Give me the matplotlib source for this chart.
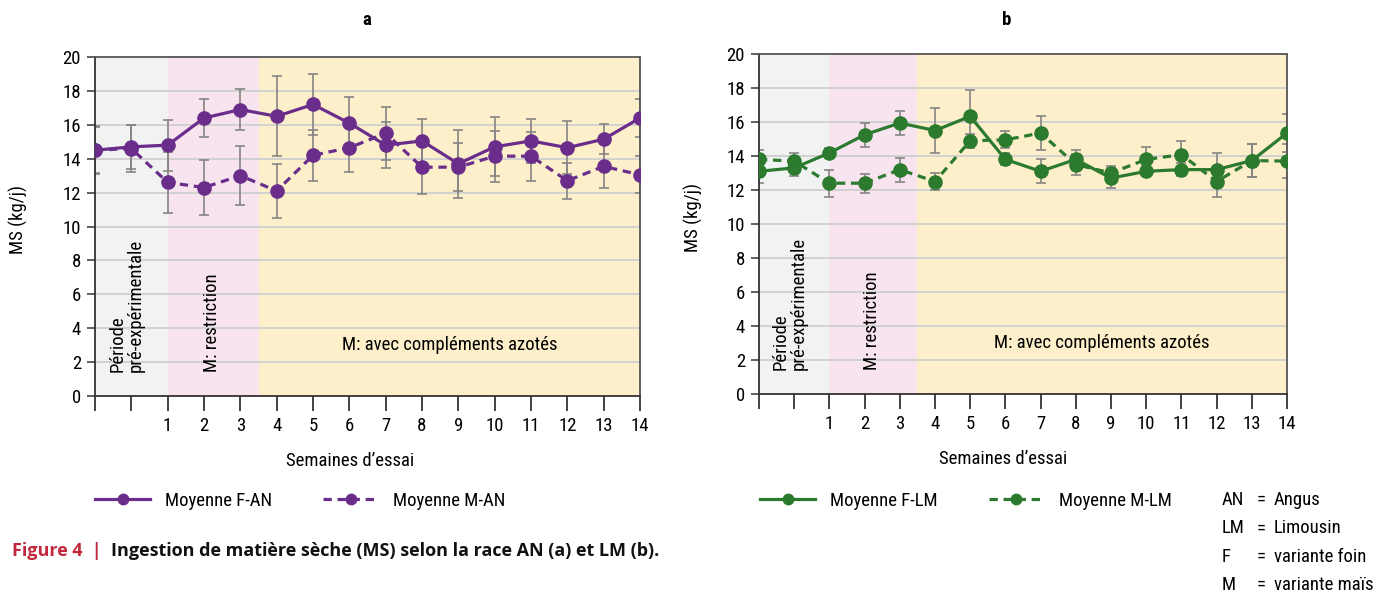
import matplotlib
matplotlib.use("Agg")
import matplotlib.pyplot as plt
from matplotlib.lines import Line2D
import numpy as np

plt.rcParams['font.family'] = ['Roboto Condensed', 'Fira Sans Condensed', 'DejaVu Sans']

# ---- data ----
week_labels = ['', '', '1', '2', '3', '4', '5', '6', '7', '8', '9', '10', '11', '12', '13', '14']

f_an = [14.5, 14.7, 14.8, 16.4, 16.9, 16.5, 17.2, 16.1, 14.8, 15.05, 13.7, 14.7, 15.05, 14.65, 15.15, 16.4]
f_an_err = [1.4, 1.3, 1.5, 1.1, 1.2, 2.35, 1.8, 1.55, 1.35, 1.3, 2.0, 1.75, 1.3, 1.55, 0.9, 1.1]
m_an = [14.5, 14.6, 12.6, 12.3, 13.0, 12.1, 14.2, 14.65, 15.5, 13.5, 13.5, 14.15, 14.15, 12.7, 13.55, 13.05]
m_an_err = [1.35, 1.4, 1.8, 1.65, 1.75, 1.6, 1.5, 1.45, 1.55, 1.6, 1.4, 1.5, 1.45, 1.05, 1.3, 1.1]

f_lm = [13.1, 13.3, 14.18, 15.25, 15.94, 15.5, 16.33, 13.8, 13.1, 13.8, 12.7, 13.1, 13.2, 13.2, 13.73, 15.35]
f_lm_err = [0.7, 0.5, 0.3, 0.7, 0.7, 1.35, 1.55, 0.35, 0.7, 0.55, 0.6, 0.3, 0.4, 1.0, 0.95, 1.1]
m_lm = [13.8, 13.7, 12.4, 12.4, 13.2, 12.5, 14.9, 14.95, 15.35, 13.5, 13.0, 13.8, 14.08, 12.5, 13.73, 13.7]
m_lm_err = [0.55, 0.5, 0.8, 0.55, 0.7, 0.5, 0.4, 0.5, 1.0, 0.6, 0.4, 0.75, 0.8, 0.9, 0.95, 1.0]

periods = [(0, 2, '#f1f2f2'), (2, 4.5, '#f7e4ee'), (4.5, 15, '#fdefca')]

purple = '#6b2d8b'
green = '#2b7a2e'
errc = '#858585'
FS = 13.5
DASH = (2.6, 1.8)

fig = plt.figure(figsize=(13.76, 5.94), dpi=100)

def make_panel(rect, title, title_x, fser, ferr, mser, merr, color, leg_labels,
               leg_x, xlab_x, ylab_x, ylab_y):
    ax = fig.add_axes(rect)
    x = np.arange(len(week_labels))
    for a, b, c in periods:
        ax.axvspan(a, b, color=c, zorder=0, lw=0)
    for yv in range(2, 20, 2):
        ax.axhline(yv, color='#cfcfcf', lw=1.3, zorder=1)
    ax.errorbar(x, fser, yerr=ferr, fmt='none', ecolor=errc, elinewidth=1.2,
                capsize=3.5, capthick=1.2, zorder=2)
    ax.errorbar(x, mser, yerr=merr, fmt='none', ecolor=errc, elinewidth=1.2,
                capsize=3.5, capthick=1.2, zorder=2)
    ax.plot(x, fser, '-', color=color, lw=2.3, marker='o', ms=9.5, zorder=3)
    ax.plot(x, mser, '--', color=color, lw=2.3, marker='o', ms=9.5,
            dashes=DASH, zorder=3)
    ax.set_xlim(0, 15)
    ax.set_ylim(0, 20)
    ax.set_yticks(range(0, 21, 2))
    ax.set_xticks(x)
    ax.set_xticklabels(week_labels)
    ax.tick_params(axis='y', direction='out', length=6, width=1.2, color='#444444',
                   labelsize=FS, pad=4)
    ax.tick_params(axis='x', direction='out', length=11, width=1.2, color='#222222',
                   labelsize=FS, pad=4)
    for s in ['left', 'bottom']:
        ax.spines[s].set_color('#333333')
        ax.spines[s].set_linewidth(1.3)
    for s in ['top', 'right']:
        ax.spines[s].set_color('#555555')
        ax.spines[s].set_linewidth(1.3)
    ax.set_ylabel('MS (kg/j)', fontsize=FS)
    ax.yaxis.set_label_coords(ylab_x, ylab_y)
    ax.set_xlabel('Semaines d\u2019essai', fontsize=FS)
    ax.xaxis.set_label_coords(xlab_x, -0.165)
    fig.text(title_x, 1 - 20 / 594, title, fontsize=FS, fontweight='bold',
             ha='center', va='center')
    ax.text(0.88, 1.4, 'Période\npré-expérimentale', rotation=90, ha='center',
            va='bottom', multialignment='left', fontsize=FS, zorder=4,
            linespacing=1.0)
    ax.text(3.22, 1.4, 'M: restriction', rotation=90, ha='center', va='bottom',
            fontsize=FS, zorder=4)
    ax.text(9.75, 3.0, 'M: avec compléments azotés', ha='center', va='center',
            fontsize=FS, zorder=4)
    handles = [Line2D([], [], color=color, lw=2.3, marker='o', ms=7.5),
               Line2D([], [], color=color, lw=2.3, ls='--', dashes=DASH,
                      marker='o', ms=7.5)]
    fig.legend(handles, leg_labels, loc='center left',
               bbox_to_anchor=(leg_x, 1 - 501 / 594), ncol=2, frameon=False,
               fontsize=FS, handlelength=2.95, handletextpad=0.8,
               columnspacing=2.7, borderpad=0, borderaxespad=0)
    return ax

axa = make_panel([95 / 1376, 1 - 396 / 594, 545 / 1376, 339 / 594], 'a', 367 / 1376,
                 f_an, f_an_err, m_an, m_an_err, purple,
                 ['Moyenne F-AN', 'Moyenne M-AN'], 95 / 1376, 0.468, -0.123, 0.52)
axb = make_panel([759 / 1376, 1 - 394 / 594, 528 / 1376, 340 / 594], 'b', 1007 / 1376,
                 f_lm, f_lm_err, m_lm, m_lm_err, green,
                 ['Moyenne F-LM', 'Moyenne M-LM'], 760 / 1376, 0.462, -0.106, 0.518)

# abbreviation key
abbr_keys = ['AN', 'LM', 'F', 'M']
abbr_vals = ['Angus', 'Limousin', 'variante foin', 'variante maïs']
for i, (k, v) in enumerate(zip(abbr_keys, abbr_vals)):
    yy = 1 - (500 + i * 28.3) / 594
    fig.text(1222 / 1376, yy, k, ha='left', va='center', fontsize=FS)
    fig.text(1257 / 1376, yy, '=', ha='left', va='center', fontsize=FS)
    fig.text(1274 / 1376, yy, v, ha='left', va='center', fontsize=FS)

# caption
cap_fam = ['Open Sans', 'DejaVu Sans']
cap_y = 1 - 551 / 594
t1 = fig.text(12 / 1376, cap_y, 'Figure 4  |  ', ha='left', va='center',
              fontsize=13, fontweight='bold', fontstretch='condensed',
              family=cap_fam, color='#c1283c')
fig.canvas.draw()
bb = t1.get_window_extent(renderer=fig.canvas.get_renderer())
fig.text(bb.x1 / fig.bbox.width, cap_y,
         'Ingestion de matière sèche (MS) selon la race AN (a) et LM (b).',
         ha='left', va='center', fontsize=13, fontweight='bold',
         fontstretch='condensed', family=cap_fam, color='#111111')

fig.savefig('out.png', dpi=100)
